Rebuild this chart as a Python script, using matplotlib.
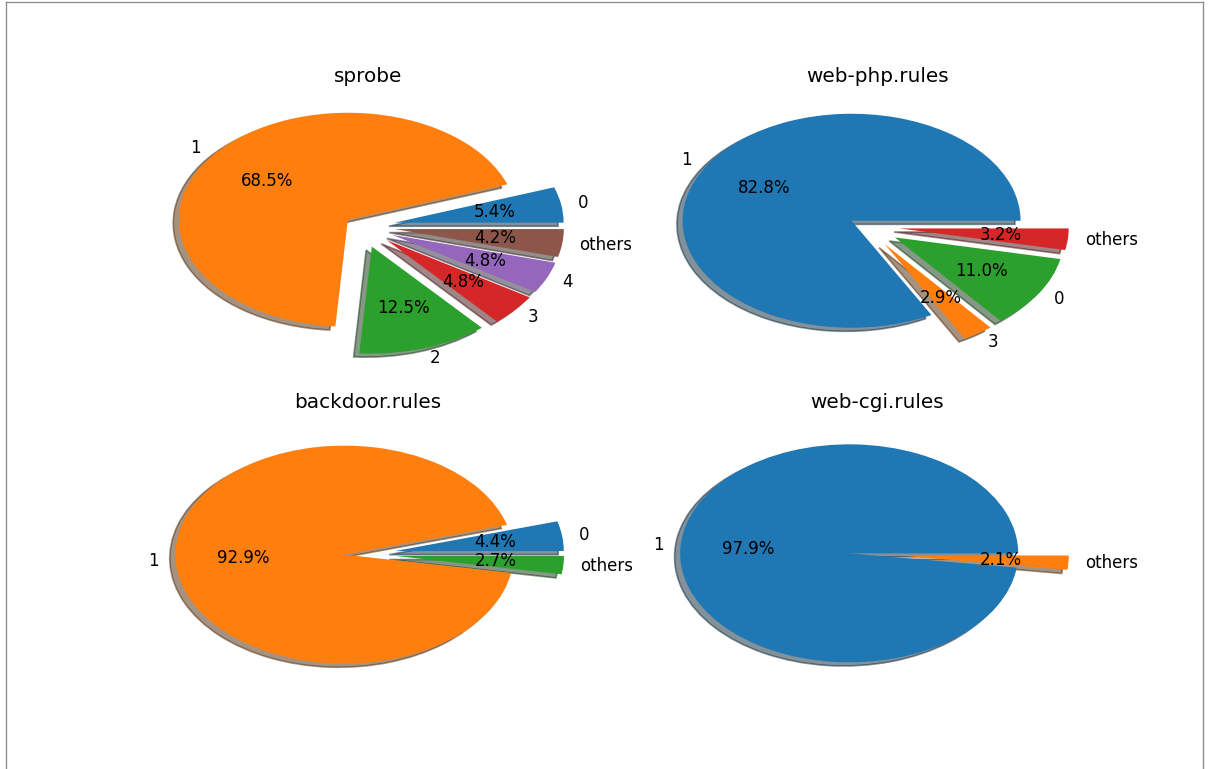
"""Pie charts of rule-file class shares."""

import matplotlib
matplotlib.use("Agg")
import matplotlib.pyplot as plt
from matplotlib.lines import Line2D

# Class share (%) per rule file, in drawing order
sprobe_labels = ["0", "1", "2", "3", "4", "others"]
sprobe_values = [5.36, 68.46, 12.46, 4.76, 4.76, 4.20]

webphp_labels = ["1", "3", "0", "others"]
webphp_values = [82.84, 2.92, 11.00, 3.24]

backdoor_labels = ["0", "1", "others"]
backdoor_values = [4.4, 92.9, 2.7]

webcgi_labels = ["1", "others"]
webcgi_values = [97.9, 2.1]

panels = [
    ("sprobe", sprobe_labels, sprobe_values),
    ("web-php.rules", webphp_labels, webphp_values),
    ("backdoor.rules", backdoor_labels, backdoor_values),
    ("web-cgi.rules", webcgi_labels, webcgi_values),
]

W, H, DPI = 1210, 769, 120
fig = plt.figure(figsize=(W / DPI, H / DPI), dpi=DPI)

# axes boxes in pixels (left, top, width, height) and x-limit offset
boxes = [
    (156.8, 92.5, 422.5, 267.5, -0.04),
    (665.8, 92.5, 422.5, 267.5, -0.065),
    (156.8, 417.8, 422.5, 272.5, -0.04),
    (665.8, 417.8, 422.5, 272.5, -0.065),
]

for (px, py, pw, ph, dx), (title, labels, values) in zip(boxes, panels):
    ax = fig.add_axes([px / W, 1 - (py + ph) / H, pw / W, ph / H])
    # the biggest class is pulled out a little, the rest further
    top = max(values)
    explode = [0.1 if v == top else 0.2 for v in values]
    ax.pie(values, labels=labels, explode=explode, autopct="%1.1f%%",
           shadow=True, startangle=0)
    ax.set_aspect("auto")
    ax.set_xlim(-1.25 - dx, 1.25 - dx)
    ax.set_ylim(-1.25, 1.25)
    ax.set_title(title)

# thin frame around the figure
x0, x1 = 6 / W, 1203 / W
y0, y1 = 1 - 2 / H, 0.0
for xs, ys in [([x0, x0], [y0, y1]), ([x0, x1], [y0, y0]), ([x1, x1], [y0, y1])]:
    fig.add_artist(Line2D(xs, ys, transform=fig.transFigure, color="#8c8c8c", lw=0.8))

fig.savefig("out.png", dpi=DPI)
